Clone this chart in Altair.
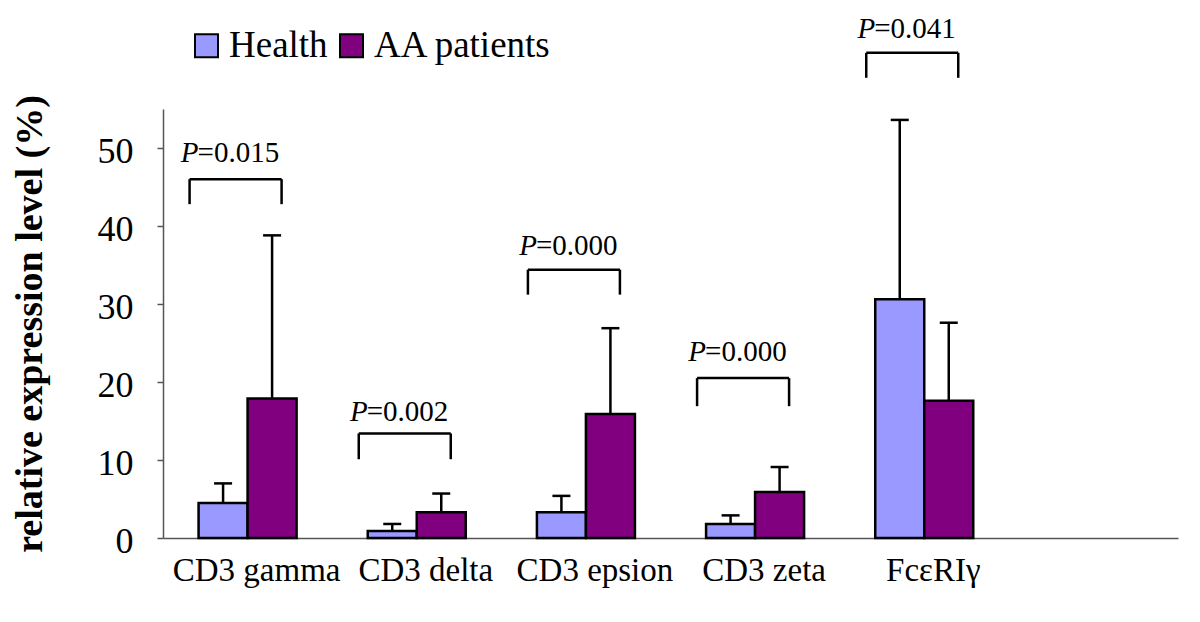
import altair as alt
import pandas as pd

categories = ["CD3 gamma", "CD3 delta", "CD3 epsion", "CD3 zeta", "FcεRIγ"]
slots = categories + [" "]
groups = ["Health", "AA patients"]
colors = ["#9999FF", "#800080"]
health_mean = [4.5, 0.9, 3.3, 1.8, 30.6]
health_sd = [2.5, 0.9, 2.1, 1.1, 23.0]
aa_mean = [17.9, 3.3, 15.9, 5.9, 17.6]
aa_sd = [20.9, 2.4, 11.0, 3.2, 10.0]
p_values = ["0.015", "0.002", "0.000", "0.000", "0.041"]
bracket_top = [46.0, 13.4, 34.4, 20.5, 62.2]
bracket_bottom = [42.8, 10.1, 31.2, 16.9, 59.0]
label_y = [49.3, 16.1, 37.5, 23.8, 65.3]
y_ticks = [0, 10, 20, 30, 40, 50]

rows = []
for i, c in enumerate(categories):
    rows.append({"cat": c, "group": "Health", "value": health_mean[i], "top": health_mean[i] + health_sd[i]})
    rows.append({"cat": c, "group": "AA patients", "value": aa_mean[i], "top": aa_mean[i] + aa_sd[i]})
bars_df = pd.DataFrame(rows)

br_df = pd.DataFrame({
    "cat": categories,
    "btop": bracket_top,
    "bbot": bracket_bottom,
    "ly": label_y,
    "p": ["=" + p for p in p_values],
})

FONT = "Liberation Serif"
xscale = alt.Scale(domain=slots, paddingInner=0, paddingOuter=0)
yscale = alt.Scale(domain=[0, 55], nice=False)
xoff = alt.XOffset("group:N", sort=groups, scale=alt.Scale(domain=groups, paddingOuter=0.726, paddingInner=0))

x_enc = alt.X("cat:N", scale=xscale, sort=slots, title=None,
              axis=alt.Axis(labelAngle=0, ticks=False, domainColor="#555555", domainWidth=1.5,
                            labelFont=FONT, labelFontSize=33, labelColor="black",
                            labelPadding=16, labelOffset=9, labelLimit=0))
y_enc = alt.Y("value:Q", scale=yscale, title="relative expression level (%)",
              axis=alt.Axis(values=y_ticks, grid=False, tickSize=6, tickColor="#555555",
                            domainColor="#555555", domainWidth=1.5, tickWidth=1.5,
                            labelFont=FONT, labelFontSize=36, labelColor="black",
                            labelPadding=24, labelOffset=3,
                            titleFont=FONT, titleFontSize=38, titleFontWeight="bold",
                            titleColor="black", titleAngle=270, titleX=-133, titleY=214.5,
                            titleAlign="center", titleBaseline="middle", titleLimit=0))

bars = alt.Chart(bars_df).mark_bar(stroke="black", strokeWidth=2.5).encode(
    x=x_enc,
    y=y_enc,
    xOffset=xoff,
    color=alt.Color("group:N", sort=groups, scale=alt.Scale(domain=groups, range=colors),
                    legend=alt.Legend(title=None, orient="none", legendX=25, legendY=-82,
                                      direction="horizontal", labelFont=FONT, labelFontSize=37,
                                      labelColor="black", symbolType="square", symbolSize=529,
                                      symbolStrokeColor="black", symbolStrokeWidth=2,
                                      symbolOpacity=1, labelOffset=4, columnPadding=5, padding=0,
                                      labelLimit=0)),
)

err = alt.Chart(bars_df).mark_rule(color="black", strokeWidth=2.5).encode(
    x=alt.X("cat:N", scale=xscale, sort=slots),
    xOffset=xoff,
    y=alt.Y("value:Q", scale=yscale),
    y2="top:Q",
)
caps = alt.Chart(bars_df).mark_tick(color="black", size=18, thickness=2.5, opacity=1).encode(
    x=alt.X("cat:N", scale=xscale, sort=slots),
    xOffset=xoff,
    y=alt.Y("top:Q", scale=yscale),
)

bx = alt.X("cat:N", scale=xscale, sort=slots)
b_h = alt.Chart(br_df).mark_rule(color="black", strokeWidth=2.5, xOffset=-58, x2Offset=34).encode(
    x=bx, x2="cat:N", y=alt.Y("btop:Q", scale=yscale))
b_l = alt.Chart(br_df).mark_rule(color="black", strokeWidth=2.5, xOffset=-58).encode(
    x=bx, y=alt.Y("btop:Q", scale=yscale), y2="bbot:Q")
b_r = alt.Chart(br_df).mark_rule(color="black", strokeWidth=2.5, xOffset=34).encode(
    x=bx, y=alt.Y("btop:Q", scale=yscale), y2="bbot:Q")

t_p = alt.Chart(br_df).mark_text(text="P", font=FONT, fontSize=29, fontStyle="italic",
                                 align="right", baseline="middle", xOffset=-49, color="black").encode(
    x=bx, y=alt.Y("ly:Q", scale=yscale))
t_v = alt.Chart(br_df).mark_text(font=FONT, fontSize=29, align="left", baseline="middle",
                                 xOffset=-50, color="black").encode(
    x=bx, y=alt.Y("ly:Q", scale=yscale), text="p:N")

chart = alt.layer(bars, err, caps, b_h, b_l, b_r, t_p, t_v).properties(
    width=1015, height=429,
    padding={"left": 155, "top": 101, "right": 14, "bottom": 76},
    autosize=alt.AutoSizeParams(type="none"),
    background="white",
).configure_view(stroke=None)

chart.save("out.html", embed_options={"renderer": "svg", "actions": False})
